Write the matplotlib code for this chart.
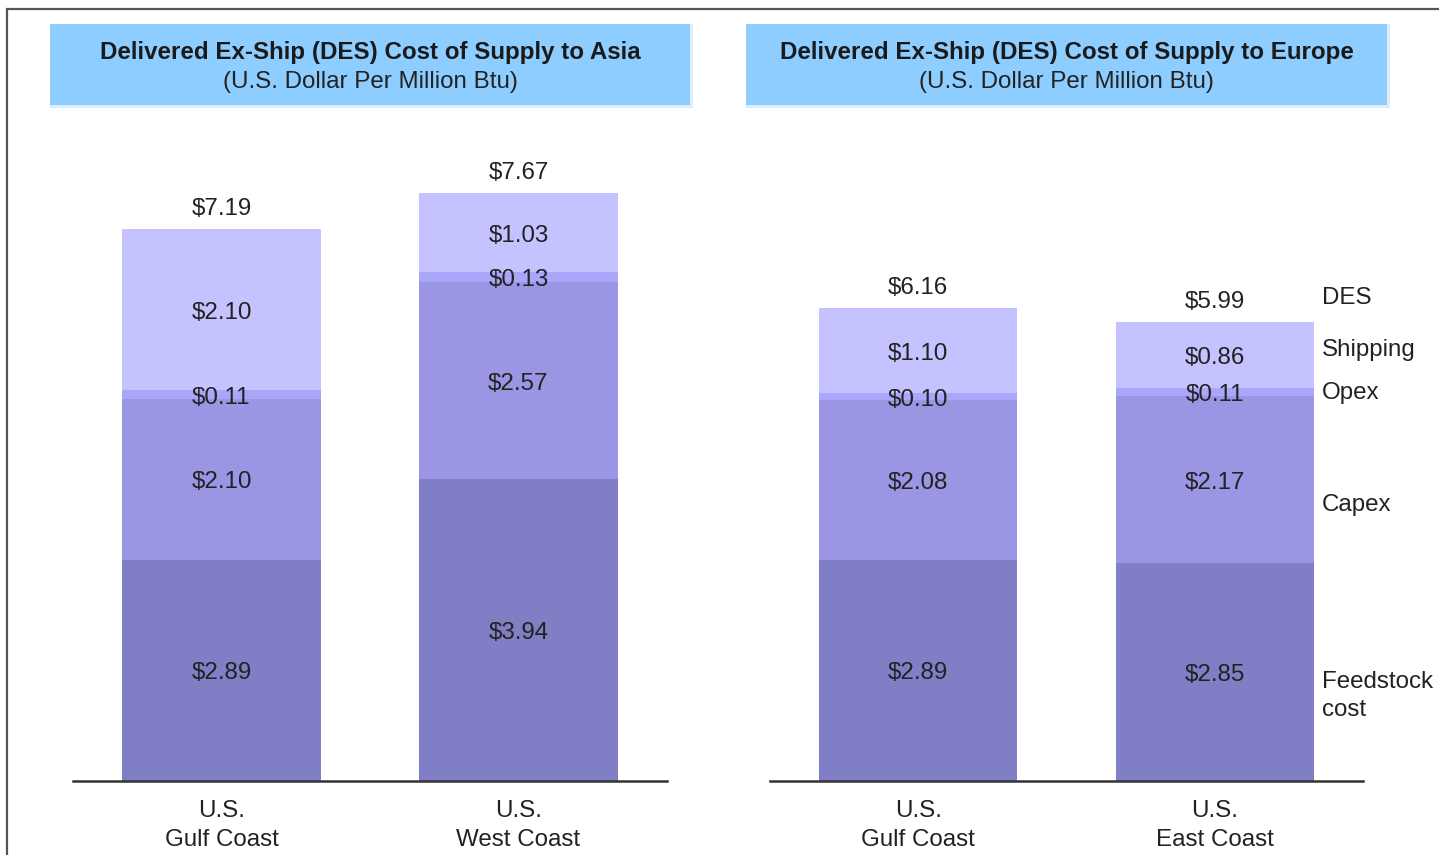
import matplotlib
matplotlib.use("Agg")
import matplotlib.pyplot as plt
from matplotlib.patches import Rectangle

plt.rcParams['font.family'] = ['Liberation Sans', 'DejaVu Sans']

# ---- data ----
components = ["Feedstock cost", "Capex", "Opex", "Shipping"]
legend_labels = ["DES", "Shipping", "Opex", "Capex", "Feedstock\ncost"]

asia_categories = ["U.S.\nGulf Coast", "U.S.\nWest Coast"]
asia_feedstock = [2.89, 3.94]
asia_capex = [2.10, 2.57]
asia_opex = [0.11, 0.13]
asia_shipping = [2.10, 1.03]
asia_total = [7.19, 7.67]

europe_categories = ["U.S.\nGulf Coast", "U.S.\nEast Coast"]
europe_feedstock = [2.89, 2.85]
europe_capex = [2.08, 2.17]
europe_opex = [0.10, 0.11]
europe_shipping = [1.10, 0.86]
europe_total = [6.16, 5.99]

# ---- style ----
W, H = 1439, 855
colors = ["#807EC4", "#9A96E4", "#AAA7FB", "#C4C2FF"]
txt = "#222222"
box_color = "#8ECDFF"
FS = 17.4

fig = plt.figure(figsize=(W / 100, H / 100), dpi=100)


def px_box(x0, y0, x1, y1):
    """Pixel rectangle (top-left origin) -> figure fraction rect."""
    return [x0 / W, 1 - y1 / H, (x1 - x0) / W, (y1 - y0) / H]


# outer frame
fig.patches.append(Rectangle((7 / W, -0.1), 1.2, 1 - 9 / H + 0.1,
                             transform=fig.transFigure, fill=False,
                             edgecolor="#555555", linewidth=1.6))

titles = [("Delivered Ex-Ship (DES) Cost of Supply to Asia", 50, 690),
          ("Delivered Ex-Ship (DES) Cost of Supply to Europe", 746, 1387)]
for title, x0, x1 in titles:
    # soft edge behind the heading box
    r = px_box(x0, 24, x1 + 3, 108)
    fig.patches.append(Rectangle((r[0], r[1]), r[2], r[3], transform=fig.transFigure,
                                 facecolor="#DDEEFB", edgecolor="none"))
    r = px_box(x0, 24, x1, 105)
    fig.patches.append(Rectangle((r[0], r[1]), r[2], r[3], transform=fig.transFigure,
                                 facecolor=box_color, edgecolor="none"))
    cx = (x0 + x1) / 2 / W
    fig.text(cx, 1 - 53 / H, title, ha="center", va="center", fontsize=FS,
             fontweight="bold", color="#1a1a1a")
    fig.text(cx, 1 - 82 / H, "(U.S. Dollar Per Million Btu)", ha="center",
             va="center", fontsize=FS, color=txt)

YMAX = 631 / 76.6
DROP = -2.2  # points: nudge labels onto the visual centre of each segment


def draw_panel(rect, cats, series, totals):
    ax = fig.add_axes(px_box(*rect))
    x = list(range(len(cats)))
    bottom = [0.0] * len(cats)
    for vals, col in zip(series, colors):
        bars = ax.bar(x, vals, width=0.667, bottom=bottom, color=col,
                      edgecolor="none")
        for b, v in zip(bars, vals):
            ax.annotate(f"${v:.2f}", (b.get_x() + b.get_width() / 2, b.get_y() + v / 2),
                        xytext=(0, DROP), textcoords="offset points",
                        ha="center", va="center", fontsize=FS, color=txt)
        bottom = [b0 + v for b0, v in zip(bottom, vals)]
    for xi, top, tot in zip(x, bottom, totals):
        ax.annotate(f"${tot:.2f}", (xi, top), xytext=(0, 17 + DROP),
                    textcoords="offset points", ha="center", va="center",
                    fontsize=FS, color=txt)
    ax.set_xlim(-0.5, 1.5)
    ax.set_ylim(0, YMAX)
    ax.set_xticks(x)
    ax.set_xticklabels(cats, fontsize=FS, color=txt, linespacing=1.38)
    ax.tick_params(axis="x", length=0, pad=14)
    ax.set_yticks([])
    for s in ("top", "left", "right"):
        ax.spines[s].set_visible(False)
    ax.spines["bottom"].set_color("#333333")
    ax.spines["bottom"].set_linewidth(1.8)
    ax.patch.set_alpha(0)
    return ax


draw_panel((73, 150, 667, 781), asia_categories,
           [asia_feedstock, asia_capex, asia_opex, asia_shipping], asia_total)
draw_panel((770, 150, 1363, 781), europe_categories,
           [europe_feedstock, europe_capex, europe_opex, europe_shipping],
           europe_total)

# right-hand component labels
label_y_px = [298, 350, 393, 505, 696]
for lab, ypx in zip(legend_labels, label_y_px):
    fig.text(1322 / W, 1 - ypx / H, lab, ha="left", va="center", fontsize=FS,
             color=txt, linespacing=1.3)

fig.savefig("out.png", dpi=100)
